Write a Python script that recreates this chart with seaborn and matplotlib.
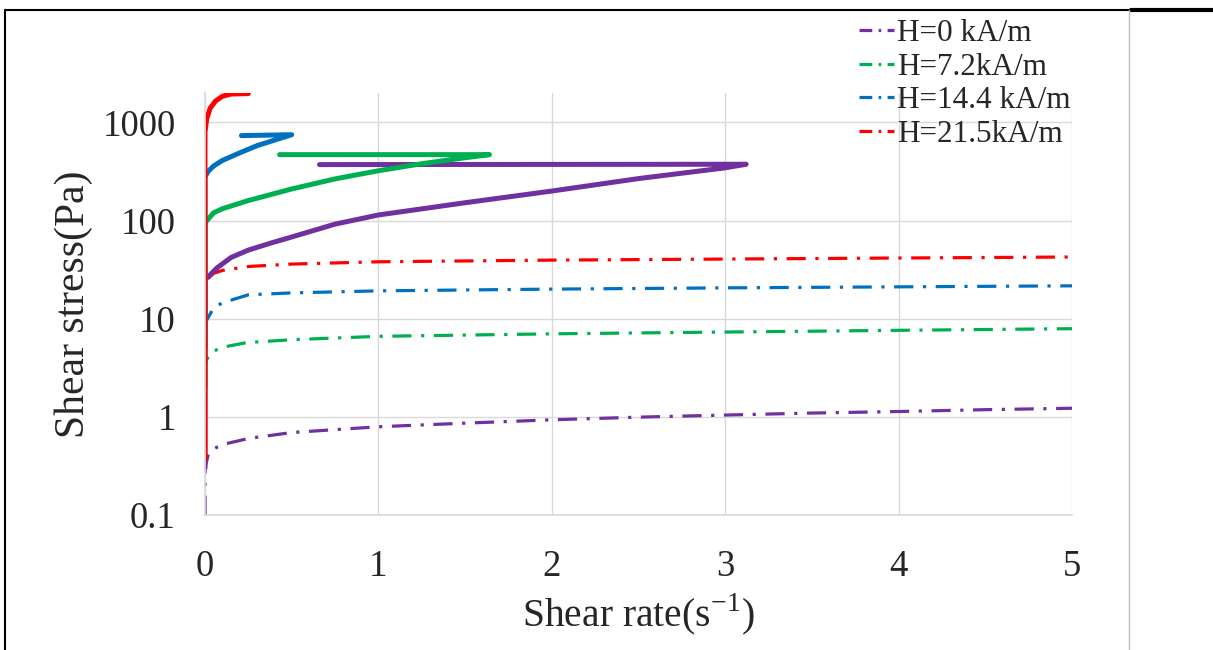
import matplotlib
matplotlib.use('Agg')
import matplotlib.pyplot as plt
import matplotlib.ticker as mticker
from matplotlib.lines import Line2D
import seaborn as sns

# series labels and colours
labels = ['H=0 kA/m', 'H=7.2kA/m', 'H=14.4 kA/m', 'H=21.5kA/m']
colors = ['#7030A0', '#00B050', '#0070C0', '#FF0000']

# dash-dot curves
dash_x = [
    [0, 0, 0.02, 0.05, 0.1, 0.25, 0.5, 1, 1.5, 2, 2.5, 3, 3.5, 4, 4.5, 5],
    [0, 0, 0.03, 0.1, 0.24, 0.5, 1, 2, 3, 4, 5],
    [0, 0, 0.05, 0.1, 0.25, 0.5, 1, 2, 3, 4, 5],
    [0, 0, 0.05, 0.1, 0.25, 0.5, 1, 2, 3, 4, 5],
]
dash_y = [
    [0.1, 0.3, 0.42, 0.47, 0.52, 0.6, 0.69, 0.79, 0.86, 0.93, 0.99, 1.04, 1.09, 1.13, 1.18, 1.22],
    [1, 3.5, 4.5, 5.1, 5.7, 6.1, 6.6, 7.0, 7.3, 7.6, 7.9],
    [3, 9, 12.9, 14.5, 17.5, 18.3, 19.2, 20, 20.6, 21.1, 21.6],
    [10, 24, 29, 31, 34, 36, 38, 39.5, 40.5, 41.5, 42.5],
]

# solid curves: up-sweep then flat return
solid_x = [
    [0, 0, 0.03, 0.07, 0.15, 0.25, 0.38, 0.5, 0.75, 1.0, 1.5, 2.0, 2.5, 3.0, 3.12, 0.66],
    [0, 0, 0.05, 0.1, 0.25, 0.5, 0.75, 1.0, 1.25, 1.5, 1.64, 0.43],
    [0, 0, 0.02, 0.05, 0.1, 0.2, 0.3, 0.4, 0.5, 0.21],
    [0, 0, 0.01, 0.03, 0.06, 0.1, 0.15, 0.25],
]
solid_y = [
    [0.3, 25, 28, 33, 42, 50, 59, 68, 92, 114, 152, 200, 268, 345, 375, 372],
    [2, 95, 120, 132, 160, 210, 266, 322, 380, 437, 470, 470],
    [5, 280, 320, 360, 410, 490, 580, 660, 750, 735],
    [0.37, 800, 1100, 1400, 1650, 1850, 1950, 1970],
]

x_ticks = [0, 1, 2, 3, 4, 5]
y_ticks = [0.1, 1, 10, 100, 1000]

sns.set_theme(style='white')
plt.rcParams['font.family'] = ['Liberation Serif', 'DejaVu Serif']

fig = plt.figure(figsize=(12.13, 6.5), dpi=100)
ax = fig.add_axes([0.169, 0.208, 0.715, 0.649])

dash_style = (0, (6, 3, 1, 3))
handles = []
for i in range(4):
    sns.lineplot(x=dash_x[i], y=dash_y[i], ax=ax, color=colors[i], sort=False,
                 estimator=None, linewidth=2.3, linestyle=dash_style)
    # shorter pattern so the dash and dots fit in the legend key
    handles.append(Line2D([], [], color=colors[i], linewidth=2.3,
                          linestyle=(0, (4, 2, 0.8, 2)), label=labels[i]))
for i in range(4):
    sns.lineplot(x=solid_x[i], y=solid_y[i], ax=ax, color=colors[i], sort=False,
                 estimator=None, linewidth=3.6)

ax.set_yscale('log')
ax.set_xlim(0, 5)
ax.set_ylim(0.1, 2000)
ax.set_xticks(x_ticks)
ax.set_yticks(y_ticks)
ax.yaxis.set_minor_locator(mticker.NullLocator())
ax.yaxis.set_major_formatter(mticker.FuncFormatter(lambda v, p: f'{v:g}'))
ax.tick_params(axis='both', labelsize=26.5, length=0)
ax.tick_params(axis='x', pad=25)
ax.tick_params(axis='y', pad=21)
ax.grid(True, color='#d9d9d9', linewidth=1)
for s in ['top', 'right']:
    ax.spines[s].set_visible(False)
for s in ['bottom', 'left']:
    ax.spines[s].set_color('#d9d9d9')
ax.set_xlabel('Shear rate(s$^{\\mathregular{-1}}$)', fontsize=28.5, labelpad=5)
ax.set_ylabel('Shear stress(Pa)', fontsize=30, labelpad=7)

fig.legend(handles=handles, loc='upper left', bbox_to_anchor=(0.698, 0.99),
           frameon=False, fontsize=22.5, handlelength=1.1, handletextpad=0.1,
           labelspacing=0.15, borderaxespad=0)

# page borders around the figure
fig.add_artist(Line2D([0.004, 1.0], [0.985, 0.985], color='black', linewidth=1.5))
fig.add_artist(Line2D([0.932, 1.0], [0.985, 0.985], color='black', linewidth=3))
fig.add_artist(Line2D([0.004, 0.004], [0.0, 0.985], color='black', linewidth=1.5))
fig.add_artist(Line2D([0.931, 0.931], [0.0, 0.985], color='#bfbfbf', linewidth=1))

fig.savefig('out.png', dpi=100)
